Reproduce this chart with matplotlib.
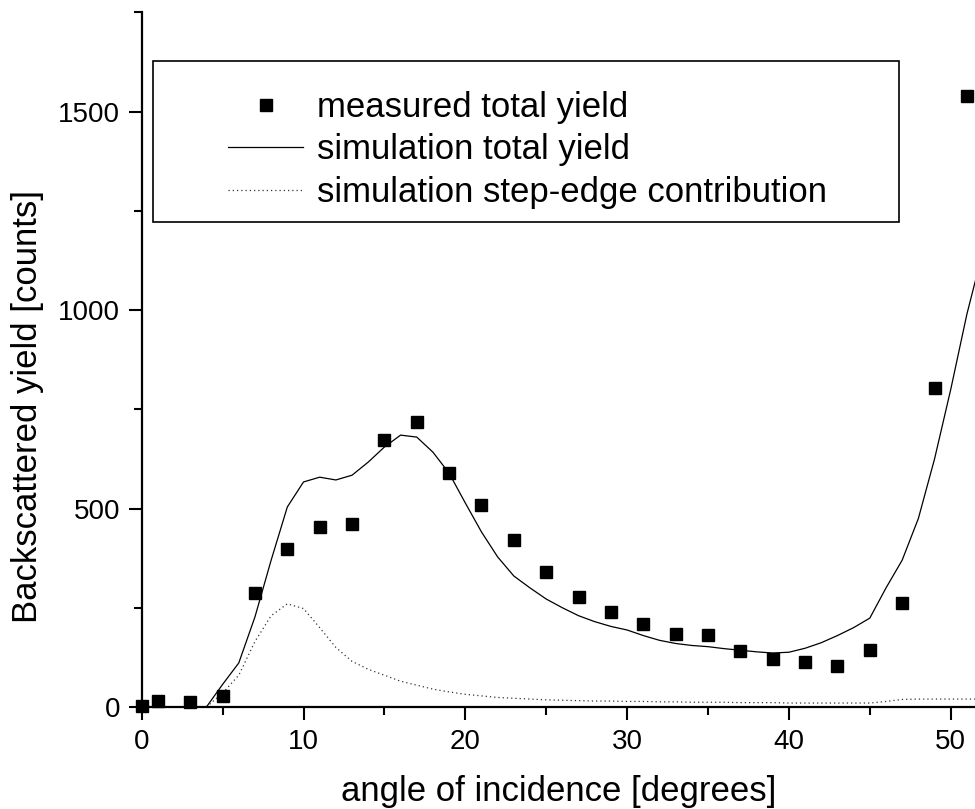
import matplotlib
matplotlib.use("Agg")
import matplotlib.pyplot as plt
from matplotlib.patches import Rectangle
from matplotlib.ticker import MultipleLocator

plt.rcParams['font.family'] = ['Liberation Sans', 'DejaVu Sans']

# measured total yield (squares)
meas_angle = [0, 1, 3, 5, 7, 9, 11, 13, 15, 17, 19, 21, 23, 25, 27, 29, 31,
              33, 35, 37, 39, 41, 43, 45, 47, 49, 51]
meas_yield = [3, 16, 12, 27, 287, 398, 453, 461, 672, 718, 589, 509, 420, 340,
              277, 239, 209, 184, 181, 141, 121, 113, 103, 144, 262, 803, 1539]

# simulation, 1 degree steps
sim_angle = list(range(4, 53))
sim_total = [0, 57, 111, 227, 370, 504, 567, 579, 572, 584, 617, 655, 685, 680,
             642, 589, 514, 441, 378, 330, 300, 272, 250, 230, 215, 203, 194,
             180, 168, 160, 155, 152, 147, 143, 139, 136, 138, 148, 162, 180,
             200, 224, 300, 370, 475, 625, 800, 990, 1150]
sim_step = [0, 35, 80, 165, 230, 260, 248, 200, 150, 115, 95, 80, 65, 55, 45,
            38, 32, 28, 24, 22, 20, 18, 17, 16, 15, 15, 14, 14, 13, 13, 12, 12,
            12, 11, 11, 11, 10, 10, 10, 10, 10, 10, 14, 19, 20, 20, 20, 20, 20]

W, H = 975, 809
fig = plt.figure(figsize=(W / 100, H / 100), dpi=100)
ax = fig.add_axes([141.7 / W, (H - 707) / H, (W - 141.7) / W, (707 - 12.4) / H])

ax.plot(sim_angle, sim_total, color='black', lw=0.9, label='simulation total yield')
ax.plot(sim_angle, sim_step, color='#333333', lw=0.9, ls=(0, (1, 2.4)),
        label='simulation step-edge contribution')
ax.plot(meas_angle, meas_yield, ls='none', marker='s', ms=9.3, color='black',
        label='measured total yield', clip_on=False)

ax.set_xlim(0, 51.5)
ax.set_ylim(0, 1750)
ax.xaxis.set_major_locator(MultipleLocator(10))
ax.xaxis.set_minor_locator(MultipleLocator(5))
ax.yaxis.set_major_locator(MultipleLocator(500))
ax.yaxis.set_minor_locator(MultipleLocator(250))

for s in ['top', 'right']:
    ax.spines[s].set_visible(False)
for s in ['left', 'bottom']:
    ax.spines[s].set_linewidth(1.6)

ax.tick_params(which='major', direction='out', length=9.5, width=1.5,
               labelsize=20, pad=6)
ax.tick_params(which='minor', direction='out', length=5.5, width=1.5)

ax.set_xlabel('angle of incidence [degrees]', fontsize=25, labelpad=15)
ax.set_ylabel('Backscattered yield [counts]', fontsize=25)
ax.yaxis.set_label_coords(-(141.7 - 44) / (W - 141.7), 0.432)

# legend frame
fig.patches.append(Rectangle((153 / W, (H - 222) / H), (899 - 153) / W,
                             (222 - 61) / H, transform=fig.transFigure,
                             fill=False, ec='black', lw=1.2))

h, l = ax.get_legend_handles_labels()
order = [2, 0, 1]
ax.legend([h[i] for i in order], [l[i] for i in order], frameon=False,
          loc='upper left', bbox_to_anchor=(228 / W, 1 - 91 / H),
          bbox_transform=fig.transFigure, fontsize=25, handlelength=2.16,
          handletextpad=0.4, labelspacing=0.27, borderpad=0, borderaxespad=0)

fig.savefig('out.png', dpi=100)
